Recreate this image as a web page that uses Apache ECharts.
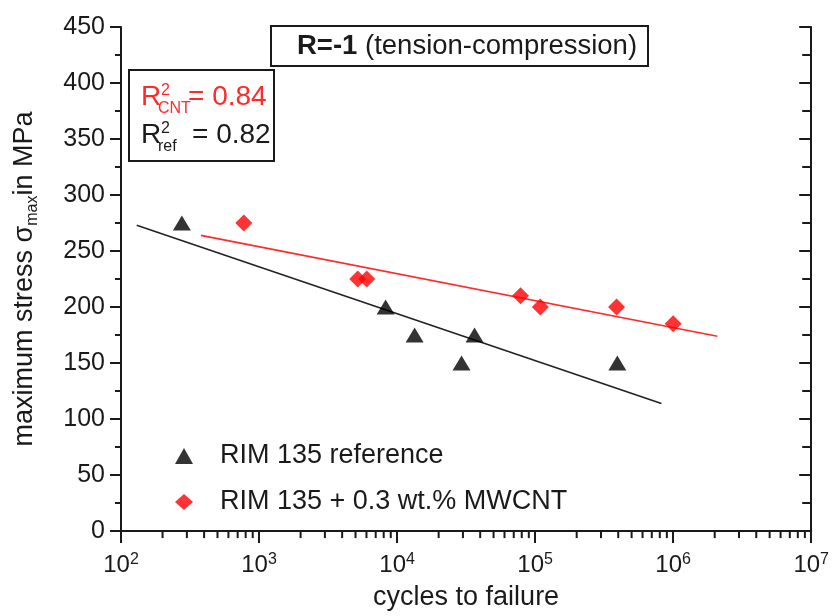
<!DOCTYPE html>
<html>
<head>
<meta charset="utf-8">
<script src="https://cdn.jsdelivr.net/npm/echarts@6/dist/echarts.min.js"></script>
<style>html,body{margin:0;padding:0;background:#fff}#c{width:832px;height:616px}</style>
</head>
<body>
<div id="c"></div>
<script>
// ---- data ----
const refCycles = [276, 8260, 13400, 29300, 36400, 394000];
const refStress = [275, 200, 175, 150, 175, 150];
const cntCycles = [776, 5190, 6030, 78400, 109000, 389000, 1000000];
const cntStress = [275, 225, 225, 210, 200, 200, 185];
const refFitCycles = [130, 822000];
const refFitStress = [273, 114];
const cntFitCycles = [379, 2090000];
const cntFitStress = [264, 174];
const seriesNames = ['RIM 135 reference', 'RIM 135 + 0.3 wt.% MWCNT'];
const yTicks = [0, 50, 100, 150, 200, 250, 300, 350, 400, 450];
const xDecades = [2, 3, 4, 5, 6, 7];

const FONT = '"Liberation Sans", Arial, sans-serif';
const INK = '#1a1a1a';
const RED = '#ff0000';
const RED_TXT = '#ff2a2a';

// minor log tick positions (2..9 x 10^k)
const xMinor = [];
for (let k = xDecades[0]; k < xDecades[xDecades.length - 1]; k++) {
  for (let d = 2; d <= 9; d++) xMinor.push([d * Math.pow(10, k), 0]);
}

const zip = (a, b) => a.map((v, i) => [v, b[i]]);

const chart = echarts.init(document.getElementById('c'));
chart.setOption({
  animation: false,
  grid: { left: 121, right: 20, top: 27, bottom: 81 },
  xAxis: {
    type: 'log', logBase: 10,
    min: Math.pow(10, xDecades[0]), max: Math.pow(10, xDecades[xDecades.length - 1]),
    name: 'cycles to failure', nameLocation: 'middle', nameGap: 51,
    nameTextStyle: { fontFamily: FONT, fontSize: 27, color: INK, lineHeight: 27 },
    axisLine: { lineStyle: { color: INK, width: 2 } },
    axisTick: { show: true, inside: false, length: 12, lineStyle: { color: INK, width: 2 } },
    splitLine: { show: false },
    axisLabel: {
      margin: 20, showMinLabel: true, showMaxLabel: true,
      formatter: v => '10{sup|' + Math.round(Math.log10(v)) + '}',
      fontFamily: FONT, fontSize: 24, color: INK, lineHeight: 28,
      rich: { sup: { fontFamily: FONT, fontSize: 16, color: INK, verticalAlign: 'top', lineHeight: 16 } }
    }
  },
  yAxis: [{
    type: 'value', min: yTicks[0], max: yTicks[yTicks.length - 1], interval: 50,
    name: 'maximum stress σ{sub|max}in MPa', nameLocation: 'middle', nameGap: 80,
    nameTextStyle: { fontFamily: FONT, fontSize: 27, color: INK, lineHeight: 32,
      rich: { sub: { fontFamily: FONT, fontSize: 16, color: INK, verticalAlign: 'bottom', lineHeight: 16 } } },
    axisLine: { show: true, lineStyle: { color: INK, width: 2 } },
    axisTick: { show: true, inside: false, length: 11, lineStyle: { color: INK, width: 2 } },
    minorTick: { show: true, splitNumber: 2, length: 6, lineStyle: { color: INK, width: 2 } },
    splitLine: { show: false },
    axisLabel: { margin: 16, fontFamily: FONT, fontSize: 25, color: INK }
  }, {
    type: 'value', position: 'right', min: yTicks[0], max: yTicks[yTicks.length - 1], interval: 50,
    axisLine: { show: true, lineStyle: { color: INK, width: 2 } },
    axisTick: { show: true, inside: true, length: 12, lineStyle: { color: INK, width: 2 } },
    minorTick: { show: true, splitNumber: 2, length: 9, lineStyle: { color: INK, width: 2 } },
    splitLine: { show: false },
    axisLabel: { show: false }
  }],
  legend: {
    data: seriesNames, orient: 'vertical', left: 170, top: 436,
    itemWidth: 18, itemHeight: 16, itemGap: 16,
    textStyle: { fontFamily: FONT, fontSize: 27, color: INK, lineHeight: 30, padding: [0, 0, 0, 22] }
  },
  series: [
    { type: 'line', data: zip(refFitCycles, refFitStress), symbol: 'none', silent: true,
      lineStyle: { color: '#222', width: 1.6 }, z: 2 },
    { type: 'line', data: zip(cntFitCycles, cntFitStress), symbol: 'none', silent: true,
      lineStyle: { color: RED_TXT, width: 1.6 }, z: 2 },
    { name: seriesNames[0], type: 'scatter', data: zip(refCycles, refStress),
      symbol: 'triangle', symbolSize: [18, 15], itemStyle: { color: '#000' }, z: 3 },
    { name: seriesNames[1], type: 'scatter', data: zip(cntCycles, cntStress),
      symbol: 'diamond', symbolSize: [17, 17], itemStyle: { color: RED }, z: 3 },
    { type: 'custom', data: xMinor, clip: false, silent: true, z: 4,
      renderItem: (params, api) => {
        const p = api.coord([api.value(0), 0]);
        return { type: 'line', shape: { x1: p[0], y1: p[1], x2: p[0], y2: p[1] + 7 },
                 style: { stroke: INK, lineWidth: 2 } };
      } }
  ],
  graphic: [
    { type: 'rect', shape: { x: 271, y: 26, width: 377, height: 40 },
      style: { fill: '#fff', stroke: INK, lineWidth: 2 }, z: 10 },
    { type: 'text', x: 297, y: 46, z: 11,
      style: { text: '{b|R=-1} (tension-compression)', fontFamily: FONT, fontSize: 27.5, fill: INK,
               verticalAlign: 'middle',
               rich: { b: { fontFamily: FONT, fontSize: 27.5, fontWeight: 'bold', fill: INK } } } },
    { type: 'rect', shape: { x: 129, y: 70, width: 145, height: 91 },
      style: { fill: '#fff', stroke: INK, lineWidth: 2 }, z: 10 },
    { type: 'text', x: 141, y: 97, z: 11, style: { text: 'R', fontFamily: FONT, fontSize: 28, fill: RED_TXT, verticalAlign: 'middle' } },
    { type: 'text', x: 161, y: 91, z: 11, style: { text: '2', fontFamily: FONT, fontSize: 16, fill: RED_TXT, verticalAlign: 'middle' } },
    { type: 'text', x: 158, y: 109, z: 11, style: { text: 'CNT', fontFamily: FONT, fontSize: 16, fill: RED_TXT, verticalAlign: 'middle' } },
    { type: 'text', x: 188, y: 97, z: 11, style: { text: '= 0.84', fontFamily: FONT, fontSize: 28, fill: RED_TXT, verticalAlign: 'middle' } },
    { type: 'text', x: 141, y: 135, z: 11, style: { text: 'R', fontFamily: FONT, fontSize: 28, fill: INK, verticalAlign: 'middle' } },
    { type: 'text', x: 161, y: 129, z: 11, style: { text: '2', fontFamily: FONT, fontSize: 16, fill: INK, verticalAlign: 'middle' } },
    { type: 'text', x: 158, y: 147, z: 11, style: { text: 'ref', fontFamily: FONT, fontSize: 16, fill: INK, verticalAlign: 'middle' } },
    { type: 'text', x: 192, y: 135, z: 11, style: { text: '= 0.82', fontFamily: FONT, fontSize: 28, fill: INK, verticalAlign: 'middle' } }
  ]
});
</script>
</body>
</html>
